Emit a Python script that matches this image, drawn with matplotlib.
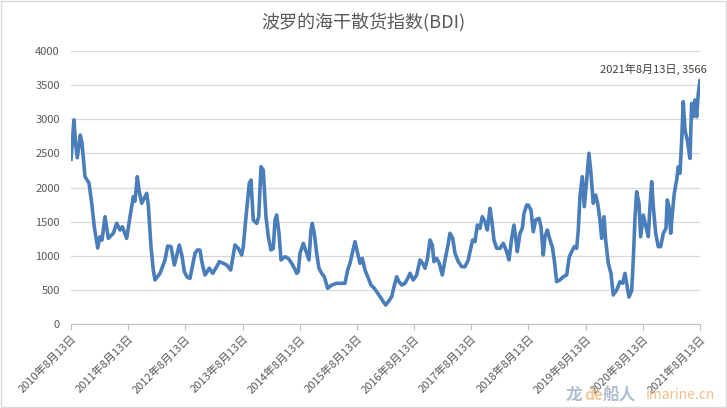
#!/usr/bin/python3
# -*- coding: utf-8 -*-
import numpy as np
import matplotlib
matplotlib.use('Agg')
from matplotlib import pyplot as plt
from matplotlib.patches import Rectangle

plt.rcParams['font.family'] = ['Noto Sans CJK SC', 'DejaVu Sans']

# 波罗的海干散货指数，横轴为小数年份
year = [
    2010.614, 2010.640, 2010.666, 2010.693, 2010.724, 2010.777, 2010.806, 2010.859, 2010.929, 2010.976,
    2011.021, 2011.081, 2011.121, 2011.156, 2011.209, 2011.266, 2011.354, 2011.413, 2011.471, 2011.511,
    2011.588, 2011.646, 2011.704, 2011.733, 2011.774, 2011.803, 2011.850, 2011.908, 2011.938, 2011.966,
    2012.013, 2012.053, 2012.083, 2012.171, 2012.258, 2012.305, 2012.363, 2012.421, 2012.508, 2012.555,
    2012.596, 2012.643, 2012.695, 2012.783, 2012.823, 2012.870, 2012.905, 2012.958, 2013.033, 2013.092,
    2013.162, 2013.208, 2013.278, 2013.337, 2013.407, 2013.482, 2013.540, 2013.599, 2013.627, 2013.675,
    2013.732, 2013.762, 2013.802, 2013.862, 2013.897, 2013.937, 2013.977, 2014.024, 2014.065, 2014.112,
    2014.152, 2014.182, 2014.211, 2014.252, 2014.287, 2014.357, 2014.414, 2014.474, 2014.532, 2014.561,
    2014.589, 2014.619, 2014.677, 2014.736, 2014.776, 2014.811, 2014.834, 2014.869, 2014.911, 2014.951,
    2014.998, 2015.044, 2015.103, 2015.173, 2015.261, 2015.348, 2015.406, 2015.453, 2015.493, 2015.534,
    2015.581, 2015.621, 2015.668, 2015.709, 2015.756, 2015.803, 2015.861, 2015.918, 2015.960, 2016.018,
    2016.076, 2016.118, 2016.163, 2016.223, 2016.263, 2016.310, 2016.350, 2016.398, 2016.455, 2016.503,
    2016.543, 2016.600, 2016.660, 2016.718, 2016.765, 2016.805, 2016.845, 2016.893, 2016.933, 2016.962,
    2017.010, 2017.055, 2017.108, 2017.155, 2017.202, 2017.242, 2017.290, 2017.330, 2017.388, 2017.447,
    2017.505, 2017.562, 2017.592, 2017.639, 2017.680, 2017.720, 2017.767, 2017.807, 2017.854, 2017.895,
    2017.942, 2017.972, 2018.012, 2018.059, 2018.117, 2018.175, 2018.234, 2018.274, 2018.321, 2018.362,
    2018.397, 2018.419, 2018.467, 2018.507, 2018.537, 2018.584, 2018.612, 2018.659, 2018.699, 2018.741,
    2018.799, 2018.834, 2018.874, 2018.904, 2018.944, 2018.991, 2019.031, 2019.066, 2019.108, 2019.166,
    2019.224, 2019.283, 2019.329, 2019.371, 2019.416, 2019.458, 2019.486, 2019.516, 2019.556, 2019.591,
    2019.633, 2019.673, 2019.708, 2019.748, 2019.790, 2019.825, 2019.866, 2019.895, 2019.936, 2019.965,
    2020.011, 2020.058, 2020.098, 2020.158, 2020.215, 2020.263, 2020.303, 2020.333, 2020.373, 2020.420,
    2020.448, 2020.478, 2020.507, 2020.548, 2020.577, 2020.623, 2020.670, 2020.710, 2020.740, 2020.770,
    2020.798, 2020.840, 2020.885, 2020.927, 2020.973, 2021.020, 2021.043, 2021.072, 2021.102, 2021.137,
    2021.165, 2021.207, 2021.235, 2021.265, 2021.295, 2021.322, 2021.352, 2021.392, 2021.440, 2021.469,
    2021.497, 2021.527, 2021.557, 2021.585, 2021.615,
]
bdi = [
    2413, 2700, 2990, 2650, 2436, 2769, 2650, 2158, 2065, 1772,
    1425, 1113, 1279, 1230, 1572, 1255, 1329, 1475, 1377, 1425,
    1255, 1572, 1865, 1800, 2158, 1963, 1768, 1865, 1914, 1743,
    1133, 791, 645, 742, 938, 1143, 1133, 864, 1157, 1000,
    767, 690, 669, 1035, 1084, 1084, 900, 718, 816, 742,
    840, 913, 889, 864, 791, 1157, 1109, 1011, 1133, 1572,
    2061, 2110, 1524, 1475, 1572, 2304, 2256, 1572, 1279, 1084,
    1109, 1524, 1597, 1329, 938, 986, 962, 889, 800, 742,
    767, 1035, 1182, 1035, 938, 1377, 1475, 1329, 1035, 816,
    742, 693, 523, 571, 596, 596, 596, 791, 889, 1035,
    1206, 1059, 889, 962, 791, 693, 571, 523, 474, 400,
    327, 278, 327, 400, 546, 693, 620, 571, 596, 669,
    742, 645, 718, 938, 889, 816, 938, 1231, 1157, 913,
    962, 889, 718, 938, 1133, 1329, 1255, 1035, 913, 840,
    840, 938, 1059, 1231, 1206, 1450, 1402, 1572, 1499, 1377,
    1695, 1524, 1231, 1109, 1109, 1182, 1059, 938, 1255, 1450,
    1231, 1059, 1329, 1402, 1622, 1743, 1743, 1670, 1352, 1524,
    1548, 1425, 1011, 1279, 1377, 1231, 1133, 938, 620, 645,
    693, 718, 986, 1059, 1133, 1109, 1377, 1865, 2158, 1719,
    2110, 2501, 2208, 1768, 1890, 1768, 1524, 1255, 1572, 1231,
    889, 742, 425, 498, 620, 596, 742, 596, 395, 490,
    938, 1550, 1938, 1768, 1279, 1597, 1425, 1279, 1719, 2085,
    1719, 1329, 1133, 1133, 1329, 1402, 1817, 1719, 1329, 1670,
    1914, 2110, 2304, 2208, 2696, 3257, 2842, 2696, 2427, 3233,
    3037, 3282, 3037, 3380, 3566,
]
# 横轴刻度：每年8月13日
tick_years = [2010, 2011, 2012, 2013, 2014, 2015, 2016, 2017, 2018, 2019, 2020, 2021]
tick_labels = ['{}年8月13日'.format(y) for y in tick_years]
last_label = '2021年8月13日, 3566'

fig = plt.figure(figsize=(7.27, 4.08), dpi=100)
ax = fig.add_axes([71 / 727, 1 - 324 / 408, 629 / 727, 273 / 408])

ax.plot(year, bdi, color='#4A7EBB', linewidth=2.6, solid_joinstyle='round')

x0 = 2010.614
tick_pos = [x0 + (y - 2010) for y in tick_years]
ax.set_xlim(x0, x0 + 11.001)
ax.set_ylim(0, 4000)
ax.set_yticks(np.arange(0, 4001, 500))
ax.set_xticks(tick_pos)
ax.set_xticklabels(tick_labels, rotation=45, ha='right', rotation_mode='anchor',
                   fontsize=8, color='#595959')
ax.tick_params(axis='y', length=0, labelsize=8, labelcolor='#595959', pad=8)
ax.tick_params(axis='x', length=4, color='#bfbfbf', pad=3)

ax.grid(axis='y', color='#d9d9d9', linewidth=0.9)
ax.set_axisbelow(True)
for s in ['top', 'right', 'left']:
    ax.spines[s].set_visible(False)
ax.spines['bottom'].set_color('#bfbfbf')

# 最后一个点的数据标签
ax.annotate(last_label, xy=(year[-1], bdi[-1]), xytext=(5, 4), textcoords='offset points',
            ha='right', va='bottom', fontsize=8, color='#404040')

fig.text(0.5, 1 - 22 / 408, '波罗的海干散货指数(BDI)', ha='center', va='center',
         fontsize=13, color='#595959')

# 水印
wy = 1 - 395 / 408
fig.text(566 / 727, wy, '龙', fontsize=12, color='#8da2bf', alpha=0.7,
         va='center', ha='left', fontweight='bold')
fig.text(584 / 727, wy, 'de', fontsize=11, color='#f0b070', alpha=0.7,
         va='center', ha='left', fontweight='bold')
fig.text(603 / 727, wy, '船人', fontsize=12, color='#8da2bf', alpha=0.7,
         va='center', ha='left', fontweight='bold')
fig.text(646 / 727, wy, 'imarine.cn', fontsize=10, color='#f0b070', alpha=0.8,
         va='center', ha='left', style='italic')

fig.patches.append(Rectangle((0.001, 0.002), 0.997, 0.995, transform=fig.transFigure,
                             fill=False, edgecolor='#d9d9d9', linewidth=1))

plt.savefig('out.png', dpi=100)
plt.close(fig)
